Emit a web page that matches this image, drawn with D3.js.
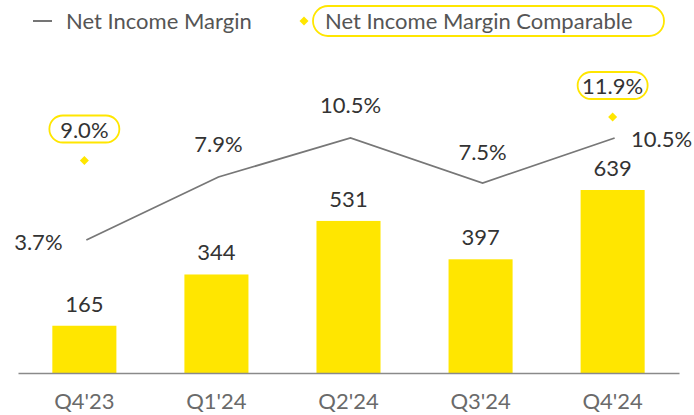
<!DOCTYPE html>
<html><head><meta charset="utf-8">
<script src="https://cdn.jsdelivr.net/npm/d3@7"></script>
<style>body{margin:0;background:#fff;}svg{display:block;font-family:Lato, "Open Sans", sans-serif;font-weight:400;}</style>
</head><body>
<svg id="c" width="694" height="415"></svg>
<script>
const categories = ["Q4'23","Q1'24","Q2'24","Q3'24","Q4'24"];
const netIncome = [165,344,531,397,639];
const margin = [3.7,7.9,10.5,7.5,10.5];
const marginLabels = ["3.7%","7.9%","10.5%","7.5%","10.5%"];
const comparable = [9.0,null,null,null,11.9];
const comparableLabels = ["9.0%",null,null,null,"11.9%"];

const svg = d3.select("#c");
const YEL = "#FFE600";
const FS = 22;
const TXT = "#333";
const x = d3.scaleBand().domain(categories).range([18,679]).paddingInner(0.515).paddingOuter(0.26);
const y = d3.scaleLinear().domain([0,639]).range([373,190]);
const y2 = d3.scaleLinear().domain([0,10]).range([295.5,145.5]);
const cx = d => x(d) + x.bandwidth()/2;

svg.selectAll("rect.bar").data(netIncome).join("rect").attr("class","bar")
  .attr("x",(d,i)=>x(categories[i])).attr("width",x.bandwidth())
  .attr("y",d=>y(d)).attr("height",d=>y(0)-y(d)).attr("fill",YEL);

const ax = svg.append("g").attr("transform","translate(0,373)").call(d3.axisBottom(x).tickSize(0).tickPadding(0));
ax.select(".domain").attr("stroke","#8a8a8a").attr("stroke-width",1.5);
ax.selectAll("text").attr("font-size",FS).attr("fill","#6a6a6a").attr("font-family","Lato, sans-serif")
  .attr("dy",null).attr("y",36);

svg.selectAll("text.bl").data(netIncome).join("text").attr("class","bl")
  .attr("x",(d,i)=>cx(categories[i])).attr("y",d=>y(d)-14)
  .attr("text-anchor","middle").attr("font-size",FS).attr("fill",TXT).text(d=>d);

const line = d3.line().x((d,i)=>cx(categories[i])+2).y(d=>y2(d));
svg.append("path").datum(margin).attr("d",line).attr("fill","none").attr("stroke","#777").attr("stroke-width",1.8);

const lblPos = [
  {dx:-48, dy:10},
  {dx:0, dy:-25},
  {dx:0, dy:-25},
  {dx:0, dy:-23},
  {dx:47, dy:9}
];
svg.selectAll("text.ml").data(margin).join("text").attr("class","ml")
  .attr("x",(d,i)=>cx(categories[i])+2+lblPos[i].dx).attr("y",(d,i)=>y2(d)+lblPos[i].dy)
  .attr("text-anchor","middle").attr("font-size",FS).attr("fill",TXT).text((d,i)=>marginLabels[i]);

const diamond = "M0,-4.5L4.5,0L0,4.5L-4.5,0Z";
const comp = comparable.map((v,i)=>({v,i})).filter(d=>d.v!=null);
svg.selectAll("path.dm").data(comp).join("path").attr("class","dm")
  .attr("d",diamond)
  .attr("transform",d=>`translate(${cx(categories[d.i])},${y2(d.v)})`).attr("fill",YEL);
comp.forEach(d=>{
  const px = cx(categories[d.i]), py = y2(d.v)-31;
  svg.append("rect").attr("x",px-35).attr("y",py-14).attr("width",70).attr("height",27).attr("rx",13.5)
    .attr("fill","#fff").attr("stroke",YEL).attr("stroke-width",1.8);
  svg.append("text").attr("x",px).attr("y",py+8).attr("text-anchor","middle").attr("font-size",FS)
    .attr("fill",TXT).text(comparableLabels[d.i]);
});

const lg = svg.append("g");
lg.append("line").attr("x1",33).attr("x2",52).attr("y1",21).attr("y2",21).attr("stroke","#666").attr("stroke-width",1.8);
lg.append("text").attr("x",66).attr("y",29).attr("font-size",FS).attr("fill","#555").text("Net Income Margin");
lg.append("path").attr("d",diamond).attr("transform","translate(304,21)").attr("fill",YEL);
lg.append("rect").attr("x",313).attr("y",6).attr("width",351).attr("height",30).attr("rx",15)
  .attr("fill","#fff").attr("stroke",YEL).attr("stroke-width",1.8);
lg.append("text").attr("x",325).attr("y",29).attr("font-size",FS).attr("fill","#555").text("Net Income Margin Comparable");
</script>
</body></html>
